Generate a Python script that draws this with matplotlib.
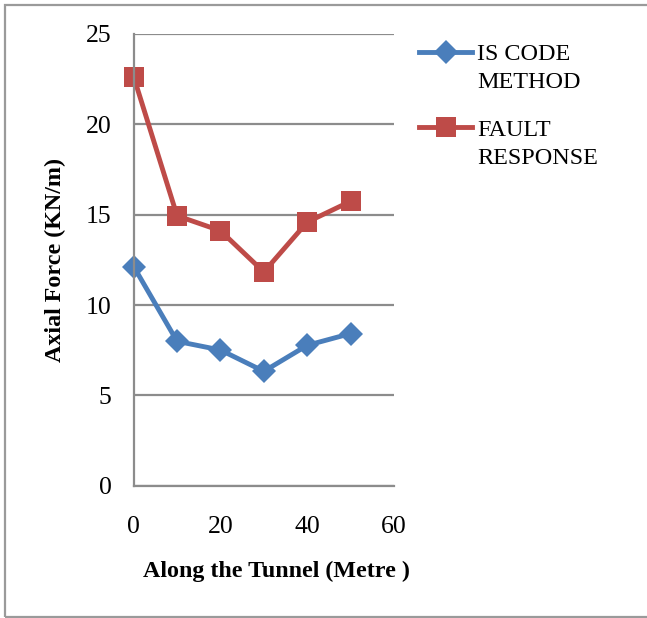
import matplotlib.pyplot as plt
from matplotlib.patches import Rectangle
from matplotlib.legend_handler import HandlerLine2D

# Data
distance = [0, 10, 20, 30, 40, 50]
is_code = [12.13, 7.99, 7.51, 6.33, 7.77, 8.42]
fault_response = [22.63, 14.94, 14.11, 11.83, 14.59, 15.74]

blue = '#4A7EBB'
red = '#BE4B48'
grid_gray = '#8C8C8C'


class FirstLineHandler(HandlerLine2D):
    # put the legend line level with the first line of a two-line label
    def create_artists(self, legend, orig_handle, xdescent, ydescent,
                       width, height, fontsize, trans):
        shift = 0.68 * fontsize
        return super().create_artists(legend, orig_handle, xdescent, ydescent - 2 * shift,
                                      width, height, fontsize, trans)


plt.rcParams['font.family'] = ['Liberation Serif', 'DejaVu Serif']

fig = plt.figure(figsize=(6.47, 6.18), dpi=100)
fig.patches.append(Rectangle((4.5 / 647, 1 - 617 / 618), 1.2, 612 / 618,
                             transform=fig.transFigure, fill=False,
                             edgecolor='#9A9A9A', linewidth=1.6))

ax = fig.add_axes([133.7 / 647, 1 - 485.7 / 618, 260.3 / 647, 451.7 / 618])

l1, = ax.plot(distance, is_code, color=blue, linewidth=3.5, marker='D',
              markersize=12, markeredgewidth=0, label='IS CODE\nMETHOD')
l2, = ax.plot(distance, fault_response, color=red, linewidth=3.5, marker='s',
              markersize=15, markeredgewidth=0, label='FAULT\nRESPONSE')
for ln in (l1, l2):
    ln.set_clip_on(False)

ax.set_xlim(0, 60)
ax.set_ylim(0, 25)
ax.set_xticks([0, 20, 40, 60])
ax.set_yticks([0, 5, 10, 15, 20, 25])
ax.yaxis.grid(True, color=grid_gray, linewidth=1.6)
ax.set_axisbelow(True)
for s in ('top', 'right'):
    ax.spines[s].set_visible(False)
for s in ('left', 'bottom'):
    ax.spines[s].set_color(grid_gray)
    ax.spines[s].set_linewidth(1.6)
ax.tick_params(axis='both', length=0, labelsize=18.5, colors='black')
ax.tick_params(axis='y', pad=16)
ax.tick_params(axis='x', pad=22)

ax.set_xlabel('Along the Tunnel (Metre )', fontsize=17.3, fontweight='bold')
ax.xaxis.set_label_coords(0.547, -0.167)
ax.set_ylabel('Axial Force (KN/m)', fontsize=17.3, fontweight='bold', labelpad=14)

leg = fig.legend(handles=[l1, l2], loc='upper left',
                 bbox_to_anchor=(419 / 647, 1 - 44 / 618), frameon=False,
                 fontsize=17.4, borderpad=0, borderaxespad=0, handlelength=2.2,
                 handletextpad=0.2, labelspacing=1.1,
                 handler_map={l1: FirstLineHandler(), l2: FirstLineHandler()})
for t in leg.get_texts():
    t.set_linespacing(1.45)

fig.savefig('out.png', dpi=100)
